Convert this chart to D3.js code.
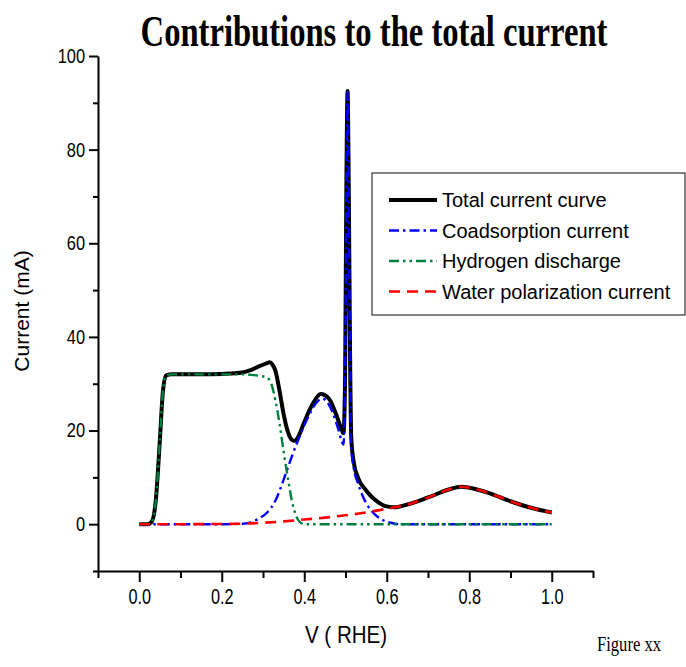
<!DOCTYPE html>
<html lang="en">
  <head>
    <meta charset="UTF-8" />
    <title>Contributions to the total current</title>
    <style>
      body {
        margin: 0;
        background: #fff;
      }
      text {
        font-family: Arial, "Liberation Sans", sans-serif;
        fill: #000;
      }
    </style>
  </head>
  <body>
    <svg id="chart"></svg>
    <script src="https://cdnjs.cloudflare.com/ajax/libs/d3/7.4.4/d3.min.js"></script>
    <script>
      // [V, I] pairs
      const totalCurve = [
        [0, 0], [0.02, 0], [0.03, 0.5], [0.04, 5], [0.05, 18], [0.057, 28], [0.065, 31.8],
        [0.08, 32], [0.15, 32], [0.2, 32.1], [0.25, 32.4], [0.27, 32.9], [0.29, 33.7],
        [0.31, 34.4], [0.316, 34.6], [0.323, 34.1], [0.33, 32.8], [0.34, 28.5], [0.35, 23.5],
        [0.36, 19.8], [0.37, 18], [0.377, 17.8], [0.385, 18.6], [0.4, 21.8], [0.42, 25.6],
        [0.44, 27.8], [0.46, 26.8], [0.48, 22.8], [0.49, 20.3], [0.495, 19.4], [0.499, 31],
        [0.502, 71], [0.505, 92.5], [0.508, 71], [0.511, 37], [0.514, 18.5], [0.52, 13.2],
        [0.53, 10], [0.55, 7.2], [0.57, 5.3], [0.59, 4.1], [0.6, 3.8], [0.62, 3.6],
        [0.65, 4.2], [0.7, 5.7], [0.75, 7.4], [0.78, 8.0], [0.8, 7.8], [0.85, 6.6],
        [0.9, 4.9], [0.95, 3.5], [1.0, 2.5]
      ];
      const coadsorption = [
        [0, 0], [0.2, 0], [0.25, 0.1], [0.27, 0.4], [0.29, 1.2], [0.31, 2.5], [0.33, 5],
        [0.35, 9.5], [0.37, 14.5], [0.39, 19], [0.41, 23], [0.43, 26], [0.445, 26.8],
        [0.46, 25.5], [0.48, 21], [0.49, 18], [0.495, 17], [0.499, 30], [0.502, 70],
        [0.505, 92.3], [0.508, 70], [0.511, 35], [0.514, 16.5], [0.52, 12], [0.53, 8.8],
        [0.55, 4.5], [0.57, 2.2], [0.59, 0.9], [0.61, 0.3], [0.63, 0], [1.0, 0]
      ];
      const hydrogen = [
        [0, 0], [0.02, 0], [0.03, 0.5], [0.04, 5], [0.05, 18], [0.057, 28], [0.065, 31.8],
        [0.08, 32], [0.15, 32], [0.25, 32], [0.27, 31.9], [0.29, 31.7], [0.31, 31.3],
        [0.32, 30], [0.33, 26.5], [0.34, 21.5], [0.35, 15.5], [0.36, 10], [0.37, 5],
        [0.38, 1.8], [0.39, 0.4], [0.4, 0], [1.0, 0]
      ];
      const water = [
        [0, 0], [0.1, 0], [0.2, 0.05], [0.25, 0.1], [0.3, 0.3], [0.35, 0.6], [0.4, 1.0],
        [0.45, 1.4], [0.5, 1.9], [0.55, 2.5], [0.6, 3.3], [0.65, 4.2], [0.7, 5.7],
        [0.75, 7.4], [0.78, 8.0], [0.8, 7.8], [0.85, 6.6], [0.9, 4.9], [0.95, 3.5], [1.0, 2.5]
      ];

      const seriesNames = [
        "Total current curve",
        "Coadsorption current",
        "Hydrogen discharge",
        "Water polarization current"
      ];
      const seriesData = [totalCurve, coadsorption, hydrogen, water];
      const colors = ["#000000", "#0000ff", "#007f3f", "#ff0000"];
      const widths = [4, 2.4, 2.4, 2.6];
      const dashes = [null, "10,4,2.5,4", "10,4,2.5,4,2.5,4", "11,7"];

      const xMajor = [0, 0.2, 0.4, 0.6, 0.8, 1.0];
      const xMinor = [-0.1, 0.1, 0.3, 0.5, 0.7, 0.9, 1.1];
      const yMajor = [0, 20, 40, 60, 80, 100];
      const yMinor = [-10, 10, 30, 50, 70, 90];

      const W = 686, H = 667;
      const svg = d3.select("#chart").attr("width", W).attr("height", H);

      const x = d3.scaleLinear().domain([-0.1, 1.1]).range([98, 593]);
      const y = d3.scaleLinear().domain([-10, 100]).range([571, 56]);

      // squeeze text horizontally like the original export
      function squeeze(sel, k) {
        sel.each(function () {
          const len = this.getComputedTextLength();
          d3.select(this).attr("textLength", len * k).attr("lengthAdjust", "spacingAndGlyphs");
        });
      }

      // axes
      const yAx = svg.append("g").attr("transform", `translate(${x(-0.1)},0)`);
      yAx.call(d3.axisLeft(y).tickValues(yMajor).tickSize(9).tickSizeOuter(0).tickPadding(4).tickFormat(d3.format("d")));
      const yMin = svg.append("g").attr("transform", `translate(${x(-0.1)},0)`);
      yMin.call(d3.axisLeft(y).tickValues(yMinor).tickSize(5).tickFormat(""));
      yMin.select(".domain").remove();

      const xAx = svg.append("g").attr("transform", `translate(0,${y(-10)})`);
      xAx.call(d3.axisBottom(x).tickValues(xMajor).tickSize(11).tickSizeOuter(0).tickPadding(6).tickFormat(d3.format(".1f")));
      const xMin = svg.append("g").attr("transform", `translate(0,${y(-10)})`);
      xMin.call(d3.axisBottom(x).tickValues(xMinor).tickSize(7).tickFormat(""));
      xMin.select(".domain").remove();

      svg.selectAll(".domain, .tick line").attr("stroke", "#000").attr("stroke-width", 2);
      yAx.selectAll("text").style("font-size", "20px").style("font-family", "Arial, 'Liberation Sans', sans-serif");
      xAx.selectAll("text").style("font-size", "22px").style("font-family", "Arial, 'Liberation Sans', sans-serif");
      squeeze(yAx.selectAll("text"), 0.82);
      squeeze(xAx.selectAll("text"), 0.74);

      // curves
      const line = d3
        .line()
        .x((d) => x(d[0]))
        .y((d) => y(d[1]))
        .curve(d3.curveMonotoneX);

      svg
        .append("g")
        .selectAll("path")
        .data(seriesData)
        .join("path")
        .attr("d", line)
        .attr("fill", "none")
        .attr("stroke", (d, i) => colors[i])
        .attr("stroke-width", (d, i) => widths[i])
        .attr("stroke-dasharray", (d, i) => dashes[i])
        .attr("stroke-linejoin", "round");

      // title, condensed with a horizontal scale
      const titleG = svg.append("g");
      const title = titleG
        .append("text")
        .attr("text-anchor", "middle")
        .style("font-family", "'Times New Roman', 'Liberation Serif', serif")
        .style("font-weight", "bold")
        .style("font-size", "44px")
        .text("Contributions to the total current");
      const tw = title.node().getComputedTextLength();
      titleG.attr("transform", `translate(374,46) scale(${467 / tw},1)`);

      svg
        .append("text")
        .attr("transform", "translate(29,311) rotate(-90)")
        .attr("text-anchor", "middle")
        .style("font-size", "21px")
        .text("Current (mA)");

      const xl = svg
        .append("text")
        .attr("x", 346)
        .attr("y", 643)
        .attr("text-anchor", "middle")
        .style("font-size", "24px")
        .text("V ( RHE)");
      xl.attr("textLength", 82).attr("lengthAdjust", "spacingAndGlyphs");

      const fig = svg
        .append("text")
        .attr("x", 597)
        .attr("y", 651)
        .style("font-family", "'Times New Roman', 'Liberation Serif', serif")
        .style("font-size", "20px")
        .text("Figure xx");
      fig.attr("textLength", 64).attr("lengthAdjust", "spacingAndGlyphs");

      // legend
      const lg = svg.append("g").attr("transform", "translate(372,173)");
      lg.append("rect")
        .attr("width", 313)
        .attr("height", 142)
        .attr("fill", "#fff")
        .attr("stroke", "#333")
        .attr("stroke-width", 1.2);

      const items = lg
        .selectAll("g.item")
        .data(seriesNames)
        .join("g")
        .attr("class", "item")
        .attr("transform", (d, i) => `translate(0,${34 + i * 30.5})`);

      items
        .append("line")
        .attr("x1", 17)
        .attr("x2", 65)
        .attr("y1", -7)
        .attr("y2", -7)
        .attr("stroke", (d, i) => colors[i])
        .attr("stroke-width", (d, i) => widths[i])
        .attr("stroke-dasharray", (d, i) => dashes[i]);

      items
        .append("text")
        .attr("x", 70)
        .attr("y", 0)
        .style("font-size", "20px")
        .text((d) => d);
    </script>
  </body>
</html>
